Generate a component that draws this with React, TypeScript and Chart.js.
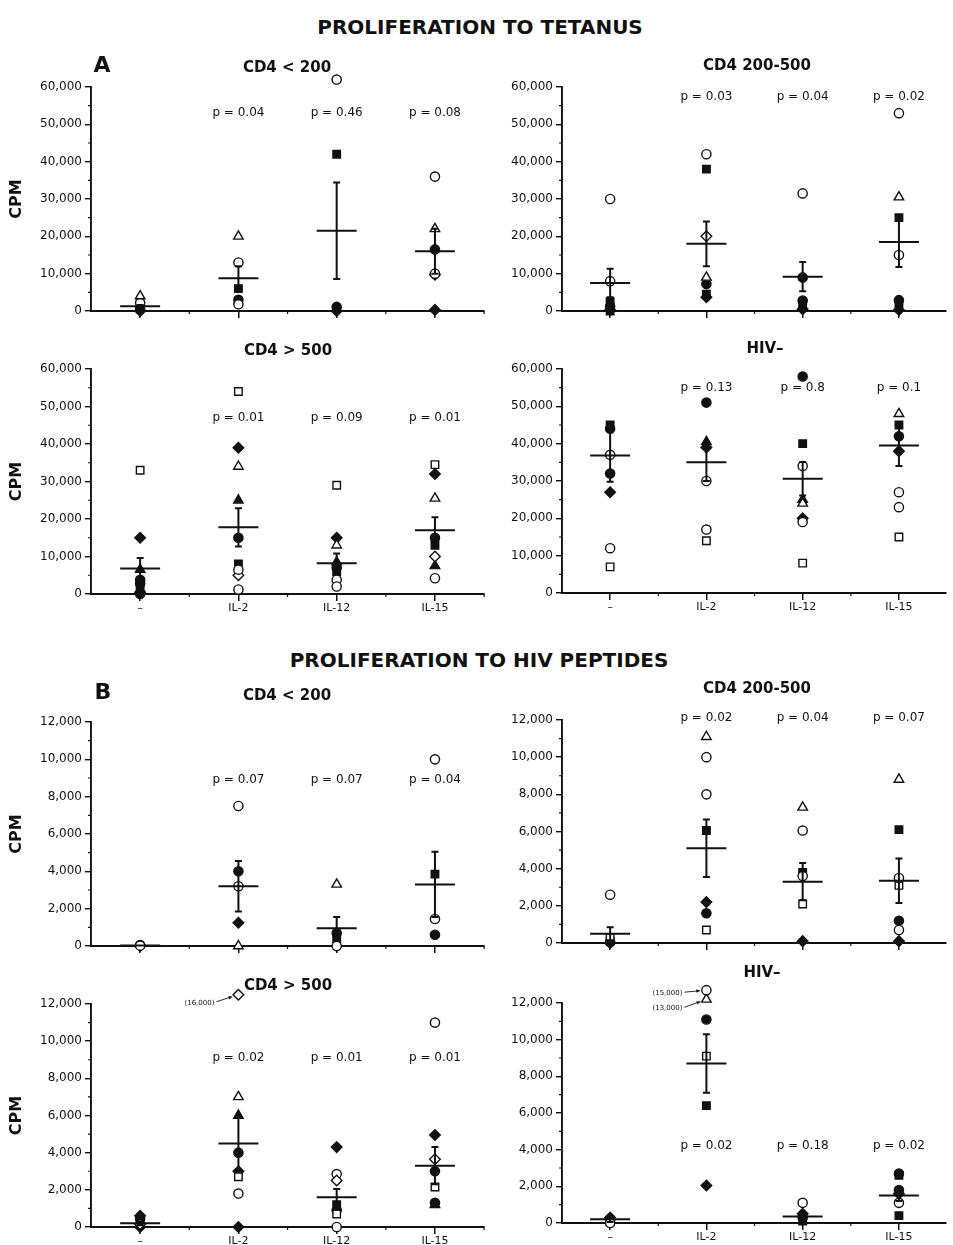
import React, { useEffect, useRef } from 'react';
import { Chart, registerables } from 'chart.js';

Chart.register(...registerables);
Chart.defaults.font.family = '"DejaVu Sans", sans-serif';

const INK = '#111';

// ---------------- DATA ----------------
const categories = ['–', 'IL-2', 'IL-12', 'IL-15'];

// Symbol keys: oc/fc open/filled circle, os/fs square, ot/ft triangle, od/fd diamond
// Each symbol: values per category (4 lists)

// A: proliferation to tetanus
const tetLt200 = {
  ot: [[4000], [20000], [], [22000]],
  oc: [[2200], [13000, 1800], [62000], [36000, 10000]],
  fs: [[1200], [6000], [42000], []],
  fc: [[500], [3000], [1100], [16500]],
  od: [[], [], [], [9700]],
  fd: [[0], [], [0], [300]],
};
const tetLt200Mean = [1300, 8800, 21500, 16000];
const tetLt200Se = [300, 3200, 12900, 6000];
const tetLt200P = ['', 'p = 0.04', 'p = 0.46', 'p = 0.08'];
const tetLt200PY = 53000;

const tet200500 = {
  oc: [[30000, 8000], [42000], [31500], [53000, 15000]],
  od: [[], [20000], [], []],
  ot: [[], [9000], [], [30500]],
  fs: [[2500, 0], [38000, 4500], [1800], [25000, 2000]],
  fc: [[1200], [7200], [9000, 2800], [2900]],
  fd: [[300], [3700], [500], [300]],
};
const tet200500Mean = [7500, 18000, 9200, 18500];
const tet200500Se = [3800, 6000, 3900, 6700];
const tet200500P = ['', 'p = 0.03', 'p = 0.04', 'p = 0.02'];
const tet200500PY = 57300;

const tetGt500 = {
  os: [[33000], [54000], [29000], [34500]],
  ot: [[], [34000], [13000], [25500]],
  oc: [[], [6500, 1200], [3800, 2000], [4200]],
  od: [[], [5000], [], [10000]],
  fd: [[15000, 500], [39000], [15000], [32000]],
  ft: [[6500], [25000], [8500], [7500]],
  fc: [[3800, 2800, 0], [15000], [7000], [15000]],
  fs: [[1200], [8000], [6000], [13000]],
};
const tetGt500Mean = [6800, 17800, 8200, 17000];
const tetGt500Se = [2800, 5100, 2600, 3500];
const tetGt500P = ['', 'p = 0.01', 'p = 0.09', 'p = 0.01'];
const tetGt500PY = 46900;

const tetNeg = {
  oc: [[37000, 12000], [30000, 17000], [34000, 19000], [27000, 23000]],
  os: [[7000], [14000], [8000], [15000]],
  ot: [[], [], [24000], [48000]],
  fs: [[45000], [], [40000], [45000]],
  fc: [[44000, 32000], [51000], [58000], [42000]],
  fd: [[27000], [39000], [20000], [38000]],
  ft: [[], [40500], [25000], []],
};
const tetNegMean = [36800, 35000, 30600, 39500];
const tetNegSe = [7000, 5000, 4500, 5500];
const tetNegP = ['', 'p = 0.13', 'p = 0.8', 'p = 0.1'];
const tetNegPY = 54900;

// B: proliferation to HIV peptides
const hivLt200 = {
  oc: [[20], [7500, 3200], [0], [10000, 1450]],
  ot: [[], [0], [3300], []],
  fc: [[50], [4000], [700], [600]],
  fs: [[], [], [400], [3850]],
  fd: [[0], [1250], [], []],
};
const hivLt200Mean = [30, 3200, 950, 3300];
const hivLt200Se = [0, 1350, 600, 1750];
const hivLt200P = ['', 'p = 0.07', 'p = 0.07', 'p = 0.04'];
const hivLt200PY = 8900;

const hiv200500 = {
  oc: [[2600], [10000, 8000], [6050, 3600], [3500, 700]],
  os: [[300], [700], [2100], [3100]],
  ot: [[], [11100], [7300], [8800]],
  fs: [[100], [6050], [3800], [6100]],
  fc: [[50], [1600], [], [1200]],
  fd: [[0], [2200], [100], [100]],
};
const hiv200500Mean = [500, 5100, 3300, 3350];
const hiv200500Se = [350, 1550, 1000, 1200];
const hiv200500P = ['', 'p = 0.02', 'p = 0.04', 'p = 0.07'];
const hiv200500PY = 12100;

const hivGt500 = {
  od: [[150], [12500], [2500], [3650]],
  ot: [[], [7000], [], []],
  os: [[], [2700], [700], [2150]],
  oc: [[], [1800], [2850, 0], [11000]],
  fd: [[600, 0], [3000, 0], [4300], [4950]],
  fc: [[450], [4000], [900], [3000, 1300]],
  fs: [[300], [], [1200], []],
  ft: [[], [6000], [], [1200]],
};
const hivGt500Mean = [200, 4500, 1600, 3300];
const hivGt500Se = [100, 1500, 450, 1000];
const hivGt500P = ['', 'p = 0.02', 'p = 0.01', 'p = 0.01'];
const hivGt500PY = 9100;
const hivGt500NoteCat = [1];
const hivGt500NoteVal = [12500];
const hivGt500NoteText = ['(16,000)'];

const hivNeg = {
  oc: [[0], [12700], [1100], [1100]],
  ot: [[], [12200], [], []],
  os: [[], [9100], [], []],
  fc: [[150], [11100], [300], [2700, 1800]],
  fs: [[50], [6400], [100], [2600, 400]],
  fd: [[300], [2050], [500], [1600]],
};
const hivNegMean = [200, 8700, 350, 1500];
const hivNegSe = [150, 1600, 150, 300];
const hivNegP = ['', 'p = 0.02', 'p = 0.18', 'p = 0.02'];
const hivNegPY = 4200;
const hivNegNoteCat = [1, 1];
const hivNegNoteVal = [12700, 12200];
const hivNegNoteText = ['(15,000)', '(13,000)'];

// ---------------- STYLE / LAYOUT ----------------
const SYM: Record<string, [string, boolean, number]> = {
  oc: ['circle', false, 4.6],
  fc: ['circle', true, 4.6],
  os: ['rect', false, 5.3],
  fs: ['rect', true, 5.3],
  ot: ['triangle', false, 5.5],
  ft: ['triangle', true, 5.5],
  od: ['rectRot', false, 5.3],
  fd: ['rectRot', true, 5.3],
};

type PanelCfg = {
  title: string; tx: number; ty: number;
  x0: number; w: number; plotLeft: number; plotRight: number; plotTop: number; plotBottom: number;
  xMax: number; yMax: number; yStep: number; showX: boolean; cpm: boolean;
  points: Record<string, number[][]>; mean: number[]; se: number[]; pText: string[]; pY: number;
  noteCat?: number[]; noteVal?: number[]; noteText?: string[]; noteDx?: number[]; noteDy?: number[];
};

const L = { x0: 0, w: 491, plotLeft: 91, plotRight: 485, xMax: 3.5, cpm: true };
const R = { x0: 480, w: 473, plotLeft: 562, plotRight: 953, xMax: 3.49, cpm: false };

const panels: PanelCfg[] = [
  { ...L, title: 'CD4 < 200', tx: 287, ty: 67, plotTop: 87, plotBottom: 311, yMax: 60000, yStep: 10000, showX: false,
    points: tetLt200, mean: tetLt200Mean, se: tetLt200Se, pText: tetLt200P, pY: tetLt200PY },
  { ...R, title: 'CD4 200-500', tx: 757, ty: 65, plotTop: 87, plotBottom: 311, yMax: 60000, yStep: 10000, showX: false,
    points: tet200500, mean: tet200500Mean, se: tet200500Se, pText: tet200500P, pY: tet200500PY },
  { ...L, title: 'CD4 > 500', tx: 288, ty: 350, plotTop: 369, plotBottom: 594, yMax: 60000, yStep: 10000, showX: true,
    points: tetGt500, mean: tetGt500Mean, se: tetGt500Se, pText: tetGt500P, pY: tetGt500PY },
  { ...R, title: 'HIV–', tx: 765, ty: 348, plotTop: 369, plotBottom: 593, yMax: 60000, yStep: 10000, showX: true,
    points: tetNeg, mean: tetNegMean, se: tetNegSe, pText: tetNegP, pY: tetNegPY },
  { ...L, title: 'CD4 < 200', tx: 287, ty: 695, plotTop: 722, plotBottom: 946, yMax: 12000, yStep: 2000, showX: false,
    points: hivLt200, mean: hivLt200Mean, se: hivLt200Se, pText: hivLt200P, pY: hivLt200PY },
  { ...R, title: 'CD4 200-500', tx: 757, ty: 688, plotTop: 720, plotBottom: 943, yMax: 12000, yStep: 2000, showX: false,
    points: hiv200500, mean: hiv200500Mean, se: hiv200500Se, pText: hiv200500P, pY: hiv200500PY },
  { ...L, title: 'CD4 > 500', tx: 288, ty: 985, plotTop: 1004, plotBottom: 1227, yMax: 12000, yStep: 2000, showX: true,
    points: hivGt500, mean: hivGt500Mean, se: hivGt500Se, pText: hivGt500P, pY: hivGt500PY,
    noteCat: hivGt500NoteCat, noteVal: hivGt500NoteVal, noteText: hivGt500NoteText, noteDx: [-24], noteDy: [8] },
  { ...R, title: 'HIV–', tx: 762, ty: 972, plotTop: 1003, plotBottom: 1223, yMax: 12000, yStep: 2000, showX: true,
    points: hivNeg, mean: hivNegMean, se: hivNegSe, pText: hivNegP, pY: hivNegPY,
    noteCat: hivNegNoteCat, noteVal: hivNegNoteVal, noteText: hivNegNoteText, noteDx: [-24, -24], noteDy: [3, 9] },
];

const TOP_PAD = 45;
const X_AXIS_H = 28;

function makeExtras(cfg: PanelCfg) {
  let savedTop = 0;
  return {
    id: 'extras',
    beforeDatasetsDraw(chart: any) {
      // let markers above the axis maximum (values off scale) be drawn
      savedTop = chart.chartArea.top;
      chart.chartArea.top = savedTop - 40;
    },
    afterDatasetsDraw(chart: any) {
      chart.chartArea.top = savedTop;
      const { ctx, chartArea } = chart;
      const xs = chart.scales.x;
      const ys = chart.scales.y;
      ctx.save();
      ctx.strokeStyle = INK;
      ctx.fillStyle = INK;
      // minor ticks
      ctx.lineWidth = 1.2;
      ctx.beginPath();
      for (let v = cfg.yStep / 2; v < cfg.yMax; v += cfg.yStep) {
        const py = ys.getPixelForValue(v);
        ctx.moveTo(chartArea.left, py);
        ctx.lineTo(chartArea.left - 3, py);
      }
      for (let v = 0.5; v <= cfg.xMax + 1e-6; v += 1) {
        const px = xs.getPixelForValue(v);
        ctx.moveTo(px, chartArea.bottom);
        ctx.lineTo(px, chartArea.bottom + 3);
      }
      ctx.stroke();
      // mean +/- SE
      ctx.lineWidth = 2;
      const half = 20;
      const cap = 3.5;
      cfg.mean.forEach((m, i) => {
        const cx = xs.getPixelForValue(i);
        const my = ys.getPixelForValue(m);
        ctx.beginPath();
        ctx.moveTo(cx - half, my);
        ctx.lineTo(cx + half, my);
        const s = cfg.se[i];
        if (s > 0) {
          const hi = ys.getPixelForValue(m + s);
          const lo = ys.getPixelForValue(Math.max(0, m - s));
          ctx.moveTo(cx, hi);
          ctx.lineTo(cx, lo);
          ctx.moveTo(cx - cap, hi);
          ctx.lineTo(cx + cap, hi);
          ctx.moveTo(cx - cap, lo);
          ctx.lineTo(cx + cap, lo);
        }
        ctx.stroke();
      });
      // p values
      ctx.font = '12px "DejaVu Sans"';
      ctx.textAlign = 'center';
      ctx.textBaseline = 'middle';
      cfg.pText.forEach((t, i) => {
        if (t) ctx.fillText(t, xs.getPixelForValue(i), ys.getPixelForValue(cfg.pY));
      });
      // notes with arrows
      if (cfg.noteText) {
        ctx.font = '7px "DejaVu Sans"';
        ctx.textAlign = 'right';
        ctx.lineWidth = 0.9;
        cfg.noteText.forEach((t, k) => {
          const px = xs.getPixelForValue(cfg.noteCat![k]);
          const py = ys.getPixelForValue(cfg.noteVal![k]);
          const tx = px + cfg.noteDx![k];
          const ty = py + cfg.noteDy![k];
          ctx.fillText(t, tx, ty);
          const sx = tx + 2;
          const sy = ty - 1;
          const dx = px - sx;
          const dy = py - sy;
          const len = Math.hypot(dx, dy);
          const ex = px - (dx / len) * 6.5;
          const ey = py - (dy / len) * 6.5;
          ctx.beginPath();
          ctx.moveTo(sx, sy);
          ctx.lineTo(ex, ey);
          ctx.stroke();
          const ang = Math.atan2(ey - sy, ex - sx);
          ctx.beginPath();
          ctx.moveTo(ex, ey);
          ctx.lineTo(ex - 4 * Math.cos(ang - 0.45), ey - 4 * Math.sin(ang - 0.45));
          ctx.lineTo(ex - 4 * Math.cos(ang + 0.45), ey - 4 * Math.sin(ang + 0.45));
          ctx.closePath();
          ctx.fill();
        });
      }
      ctx.restore();
    },
  };
}

function Panel({ cfg }: { cfg: PanelCfg }) {
  const ref = useRef<HTMLCanvasElement | null>(null);
  const top = cfg.plotTop - TOP_PAD;
  const h = cfg.plotBottom + X_AXIS_H - top;
  useEffect(() => {
    if (!ref.current) return;
    const datasets = Object.entries(cfg.points).map(([k, cats]) => {
      const [style, filled, r] = SYM[k];
      return {
        data: cats.flatMap((vals, i) => vals.map((v) => ({ x: i, y: v }))),
        pointStyle: style,
        pointRadius: r,
        pointHoverRadius: r,
        backgroundColor: filled ? INK : '#fff',
        borderColor: INK,
        borderWidth: 1.4,
        clip: false,
        showLine: false,
      };
    });
    const chart = new Chart(ref.current, {
      type: 'scatter',
      data: { datasets: datasets as any },
      plugins: [makeExtras(cfg)],
      options: {
        animation: false,
        responsive: false,
        maintainAspectRatio: false,
        events: [],
        layout: { padding: { left: 0, top: TOP_PAD, bottom: 0, right: cfg.x0 + cfg.w - cfg.plotRight } },
        plugins: { legend: { display: false }, tooltip: { enabled: false }, title: { display: false } },
        scales: {
          x: {
            type: 'linear',
            min: -0.5,
            max: cfg.xMax,
            afterBuildTicks: (s: any) => {
              s.ticks = categories.map((_, i) => ({ value: i }));
            },
            afterFit: (s: any) => {
              s.height = X_AXIS_H;
            },
            grid: { drawOnChartArea: false, drawTicks: true, tickLength: 7, color: INK, lineWidth: 1.5 },
            border: { display: true, color: INK, width: 1.9 },
            ticks: {
              display: cfg.showX,
              autoSkip: false,
              maxRotation: 0,
              padding: 1,
              color: INK,
              font: { size: 11 },
              callback: (v: any) => categories[Math.round(Number(v))] ?? '',
            },
          },
          y: {
            type: 'linear',
            min: 0,
            max: cfg.yMax,
            afterFit: (s: any) => {
              s.width = cfg.plotLeft - cfg.x0;
            },
            grid: { drawOnChartArea: false, drawTicks: true, tickLength: 6, color: INK, lineWidth: 1.4 },
            border: { display: true, color: INK, width: 1.9 },
            ticks: { stepSize: cfg.yStep, padding: 3, color: INK, font: { size: 12 } },
            title: {
              display: cfg.cpm,
              text: 'CPM',
              color: INK,
              font: { size: 16, weight: 'bold' },
              padding: { top: 7, bottom: 0 },
            },
          },
        },
      } as any,
    });
    return () => chart.destroy();
  }, [cfg]);
  return (
    <canvas
      ref={ref}
      width={cfg.w}
      height={h}
      style={{ position: 'absolute', left: cfg.x0, top, width: cfg.w, height: h }}
    />
  );
}

function Label({ text, x, y, size }: { text: string; x: number; y: number; size: number }) {
  return (
    <div
      style={{
        position: 'absolute',
        left: x,
        top: y,
        transform: 'translate(-50%, -50%)',
        whiteSpace: 'nowrap',
        lineHeight: 1,
        fontFamily: '"DejaVu Sans", sans-serif',
        fontWeight: 'bold',
        fontSize: size,
        color: INK,
        pointerEvents: 'none',
      }}
    >
      {text}
    </div>
  );
}

export default function App() {
  return (
    <div
      style={{
        position: 'absolute',
        left: 0,
        top: 0,
        width: 953,
        height: 1245,
        overflow: 'hidden',
        background: '#fff',
      }}
    >
      {panels.map((p, i) => (
        <Panel key={i} cfg={p} />
      ))}
      <Label text="PROLIFERATION TO TETANUS" x={480} y={27} size={20} />
      <Label text="PROLIFERATION TO HIV PEPTIDES" x={479} y={660} size={20} />
      <Label text="A" x={102} y={65} size={22} />
      <Label text="B" x={103} y={692} size={22} />
      {panels.map((p, i) => (
        <Label key={'t' + i} text={p.title} x={p.tx} y={p.ty} size={15} />
      ))}
    </div>
  );
}
